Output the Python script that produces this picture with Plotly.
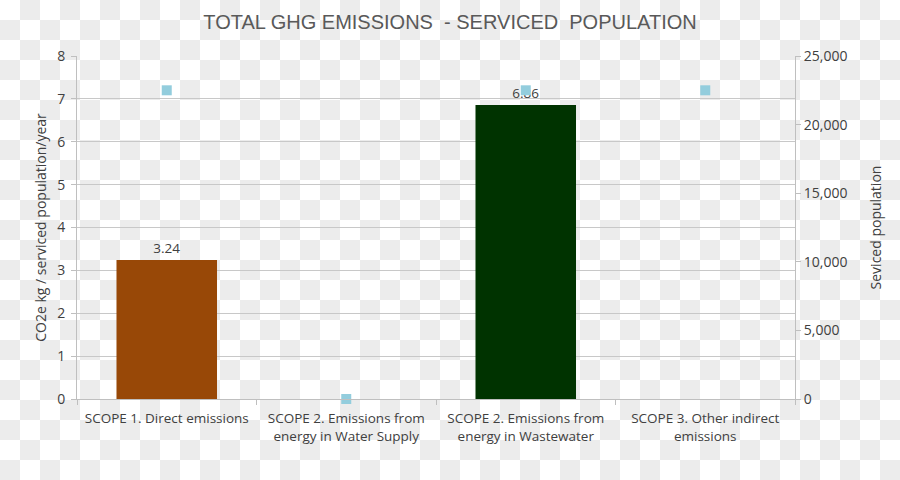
import plotly.graph_objects as go

categories = ["SCOPE 1. Direct emissions",
              "SCOPE 2. Emissions from<br>energy in Water Supply",
              "SCOPE 2. Emissions from<br>energy in Wastewater",
              "SCOPE 3. Other indirect<br>emissions"]
emissions = [3.24, 0, 6.86, 0]
bar_colors = ["#984807", "#984807", "#003300", "#003300"]
population = [22500, 0, 22500, 22500]

FONT = "Open Sans, Liberation Sans, sans-serif"
L, R, T, B = 77, 105, 56, 81
PW, PH = 900 - L - R, 480 - T - B

fig = go.Figure()
fig.add_trace(go.Bar(
    x=categories, y=emissions,
    marker=dict(color=bar_colors, line=dict(color="#002200", width=0)),
    text=[f"{v:.2f}" if v else "" for v in emissions],
    textposition="outside", cliponaxis=False,
    textfont=dict(family=FONT, size=13.5, color="#404040"),
    showlegend=False, hoverinfo="x+y",
))
fig.add_trace(go.Scatter(
    x=categories, y=population, yaxis="y2", mode="markers",
    marker=dict(symbol="square", size=10, color="#93cddd"),
    showlegend=False, cliponaxis=False,
))

# checkerboard background (transparent-look)
shapes = []
sq = 20
for r in range(0, 24):
    for c in range(0, 45):
        if (r + c) % 2 == 1:
            shapes.append(dict(type="rect", xref="paper", yref="paper",
                               x0=(c * sq - L) / PW, x1=((c + 1) * sq - L) / PW,
                               y0=(480 - B - (r + 1) * sq) / PH, y1=(480 - B - r * sq) / PH,
                               fillcolor="#ececec", line=dict(width=0), layer="below"))

fig.update_layout(
    width=900, height=480,
    margin=dict(l=L, r=R, t=T, b=B),
    paper_bgcolor="white", plot_bgcolor="rgba(0,0,0,0)",
    shapes=shapes,
    bargap=0.44,
    title=dict(text="TOTAL GHG EMISSIONS  - SERVICED  POPULATION",
               x=0.5, xanchor="center", y=0.955, yanchor="middle",
               font=dict(family="Liberation Sans Narrow, Liberation Sans, sans-serif",
                         size=20, color="#595959")),
    font=dict(family=FONT, size=14, color="#404040"),
    xaxis=dict(type="category", showline=True, linecolor="#bfbfbf", linewidth=1,
               ticks="outside", tickson="boundaries", ticklen=5, tickcolor="#bfbfbf",
               ticklabelstandoff=7,
               showgrid=False, tickfont=dict(size=13.5, color="#404040")),
    yaxis=dict(range=[0, 8], dtick=1, showline=True, linecolor="#bfbfbf",
               ticks="outside", ticklen=5, tickcolor="#bfbfbf",
               ticklabelstandoff=3,
               showgrid=True, gridcolor="#c8c8c8", gridwidth=1, zeroline=False,
               title=dict(text="CO2e kg / serviced population/year", standoff=7,
                          font=dict(size=14, color="#404040")),
               tickfont=dict(size=14, color="#404040")),
    yaxis2=dict(range=[0, 25000], dtick=5000, overlaying="y", side="right",
                showline=True, linecolor="#bfbfbf", ticks="outside", ticklen=5,
                tickcolor="#bfbfbf", showgrid=False, zeroline=False,
                tickformat=",", title=dict(text="Seviced population", standoff=24,
                                           font=dict(size=14, color="#404040")),
                tickfont=dict(size=14, color="#404040")),
)

fig.write_html("out.html")
